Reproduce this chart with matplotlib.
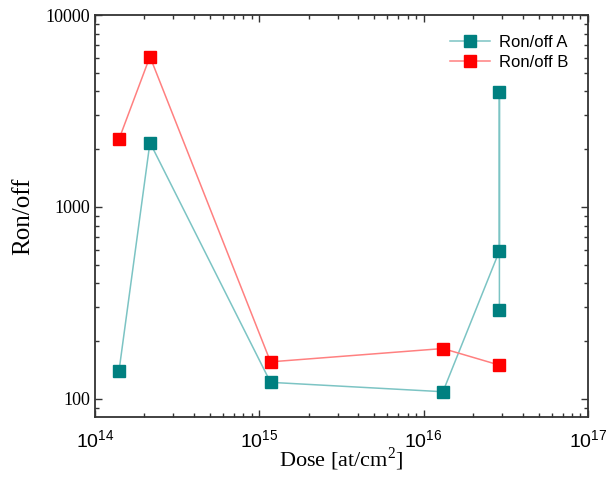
import matplotlib
matplotlib.use("Agg")
import matplotlib.pyplot as plt
from matplotlib.ticker import LogLocator, FixedLocator, FixedFormatter, NullFormatter
from matplotlib.lines import Line2D

# Data
dose_a = [1.4e14, 2.16e14, 1.17e15, 1.31e16, 2.89e16, 2.89e16, 2.89e16]
ron_a = [140, 2165, 122, 109, 590, 3950, 291]
dose_b = [1.4e14, 2.16e14, 1.17e15, 1.31e16, 2.89e16]
ron_b = [2255, 6070, 156, 183, 150]
label_a = "Ron/off A"
label_b = "Ron/off B"
x_ticks = [1e14, 1e15, 1e16, 1e17]
x_ticklabels = [r"$\mathregular{10^{14}}$", r"$\mathregular{10^{15}}$",
                r"$\mathregular{10^{16}}$", r"$\mathregular{10^{17}}$"]
y_ticks = [100, 1000, 10000]
y_ticklabels = ["100", "1000", "10000"]

fig = plt.figure(figsize=(6.06, 4.78), dpi=100)
ax = fig.add_axes([95/606, 1-417/478, (588-95)/606, (417-15)/478])

ax.plot(dose_a, ron_a, color="#7cc4c4", lw=1.1, zorder=2)
ax.plot(dose_a, ron_a, ls="none", marker="s", ms=8, color="#008080", zorder=3)
ax.plot(dose_b, ron_b, color="#ff8080", lw=1.1, zorder=2)
ax.plot(dose_b, ron_b, ls="none", marker="s", ms=8, color="#ff0000", zorder=3)

ax.set_xscale("log")
ax.set_yscale("log")
ax.set_xlim(1e14, 1e17)
ax.set_ylim(80.5, 10000)

ax.xaxis.set_major_locator(FixedLocator(x_ticks))
ax.xaxis.set_major_formatter(FixedFormatter(x_ticklabels))
ax.xaxis.set_minor_locator(LogLocator(base=10, subs=range(2, 10)))
ax.xaxis.set_minor_formatter(NullFormatter())
ax.yaxis.set_major_locator(FixedLocator(y_ticks))
ax.yaxis.set_major_formatter(FixedFormatter(y_ticklabels))
ax.yaxis.set_minor_locator(LogLocator(base=10, subs=range(2, 10)))
ax.yaxis.set_minor_formatter(NullFormatter())

ax.tick_params(which="both", direction="in", top=True, right=True, width=1.0, color="#333333")
ax.tick_params(which="major", length=5)
ax.tick_params(which="minor", length=3)
ax.tick_params(axis="x", which="major", pad=9)
for lab in ax.get_xticklabels():
    lab.set_fontfamily("Liberation Sans")
    lab.set_fontsize(14)
for lab in ax.get_yticklabels():
    lab.set_fontfamily("Liberation Serif")
    lab.set_fontsize(13)
for sp in ax.spines.values():
    sp.set_linewidth(1.3)
    sp.set_color("#333333")

ax.set_xlabel(r"Dose [at/cm$^\mathregular{2}$]", fontfamily="Liberation Serif", fontsize=16, labelpad=-4)
ax.set_ylabel("Ron/off", fontfamily="Liberation Serif", fontsize=18, labelpad=8)

h_a = Line2D([], [], color="#7cc4c4", lw=1.1, marker="s", ms=8, mfc="#008080", mec="#008080")
h_b = Line2D([], [], color="#ff8080", lw=1.1, marker="s", ms=8, mfc="#ff0000", mec="#ff0000")
ax.legend([h_a, h_b], [label_a, label_b], loc="upper right", frameon=False,
          prop={"family": "Liberation Sans", "size": 12}, handlelength=2.4,
          borderaxespad=0.8, labelspacing=0.3, handletextpad=0.5)

fig.savefig("out.png", dpi=100)
